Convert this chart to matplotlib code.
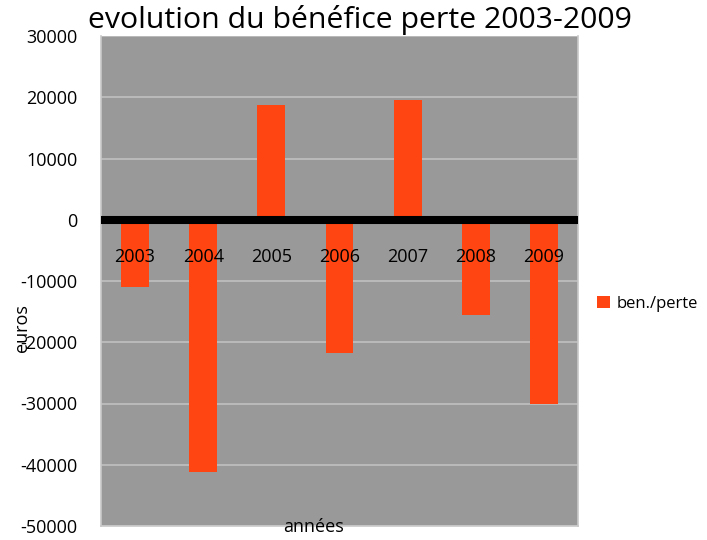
import matplotlib
matplotlib.use("Agg")
import matplotlib.pyplot as plt

years = ["2003", "2004", "2005", "2006", "2007", "2008", "2009"]
values = [-11000, -41200, 18800, -21800, 19500, -15500, -30000]
yticks = [30000, 20000, 10000, 0, -10000, -20000, -30000, -40000, -50000]

plt.rcParams['font.family'] = ['Open Sans', 'DejaVu Sans']

fig = plt.figure(figsize=(7.07, 5.40), dpi=100)
ax = fig.add_axes([101/707, 1-526/540, (578-101)/707, (526-36)/540])
ax.set_facecolor('#999999')
x = list(range(len(years)))
ax.bar(x, values, width=0.41, color='#FF4511', label='ben./perte', zorder=3)
ax.set_xlim(-0.5, len(years)-0.5)
ax.set_ylim(-50000, 30000)
ax.set_yticks(yticks)
ax.set_yticklabels([str(v) for v in yticks], fontsize=13)
ax.tick_params(axis='y', length=0, pad=17)
ax.yaxis.grid(True, color='#c0c0c0', linewidth=1.2, zorder=1)
ax.set_xticks([])
for xi, lab in zip(x, years):
    ax.text(xi, -6000, lab, ha='center', va='center', fontsize=13, zorder=5)
ax.axhline(0, color='black', linewidth=5.8, zorder=4)
for s in ['left', 'right', 'bottom', 'top']:
    ax.spines[s].set_color('#c8c8c8')
    ax.spines[s].set_linewidth(1.2)
ax.spines['top'].set_visible(False)

fig.text(360/707, 1-20/540, "evolution du bénéfice perte 2003-2009", ha='center', va='center', fontsize=21.8)
fig.text(22/707, 1-328/540, "euros", rotation=90, ha='center', va='center', fontsize=13)
fig.text(313/707, 1-527/540, "années", ha='center', va='center', fontsize=13)

leg = fig.legend(loc='center left', bbox_to_anchor=(594/707, 1-304/540), frameon=False,
                 fontsize=12, handlelength=0.75, handleheight=0.75, handletextpad=0.4,
                 borderaxespad=0, borderpad=0.2)

fig.savefig("out.png", dpi=100)
